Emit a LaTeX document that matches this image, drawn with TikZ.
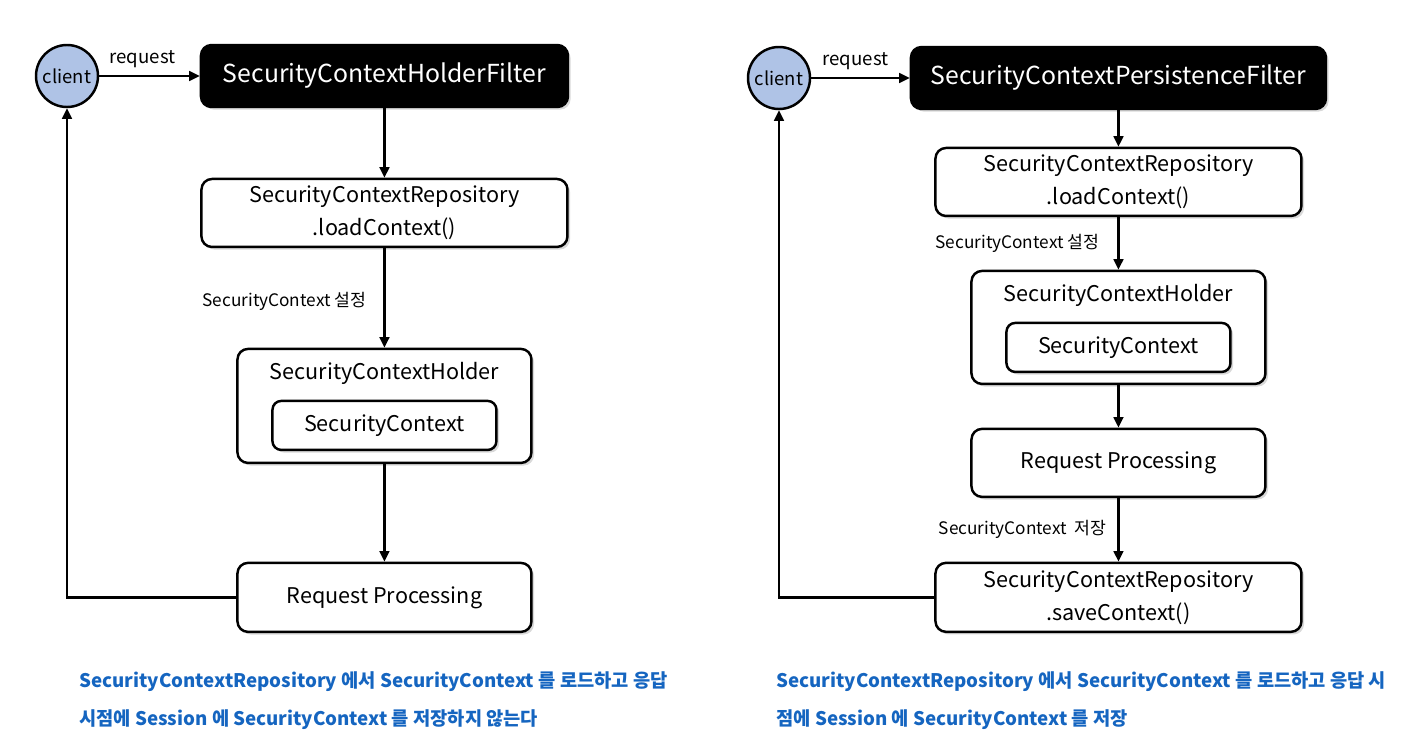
\documentclass[tikz,border=0pt]{standalone}
\usepackage{fontspec}
\setmainfont{Noto Sans CJK KR}
\usetikzlibrary{arrows.meta,positioning,shadows}
\definecolor{ClientBlue}{HTML}{AFC3E6}
\definecolor{NoteBlue}{HTML}{1565C0}
\begin{document}
\begin{tikzpicture}[
    boxtext/.style={align=center,inner sep=0pt,font=\fontsize{12.3}{18.8}\selectfont},
    flowbox/.style={
      boxtext,
      draw,
      line width=1.4pt,
      rounded corners=6pt,
      fill=white,
      drop shadow={opacity=0.3,shadow xshift=1.5pt,shadow yshift=-1.5pt}
    },
    widebox/.style={flowbox,minimum width=7.32cm,minimum height=1.36cm},
    narrowbox/.style={flowbox,minimum width=5.88cm,minimum height=1.38cm},
    holderbox/.style={flowbox,minimum width=5.88cm,minimum height=2.28cm},
    innerbox/.style={flowbox,minimum width=4.48cm,minimum height=0.98cm,rounded corners=5pt},
    filterbox/.style={
      draw,
      line width=1.4pt,
      rounded corners=6pt,
      fill=black,
      text=white,
      minimum height=1.24cm,
      drop shadow={opacity=0.3,shadow xshift=1.5pt,shadow yshift=-1.5pt},
      font=\fontsize{14.1}{16}\selectfont
    },
    clientnode/.style={
      circle,
      draw,
      line width=1.4pt,
      fill=ClientBlue,
      minimum size=1.24cm,
      inner sep=0pt,
      font=\fontsize{10.5}{12}\selectfont
    },
    flow/.style={line width=1.4pt,-{Triangle[length=6pt,width=5.5pt]}},
    steplabel/.style={inner sep=0pt,font=\fontsize{9.8}{11}\selectfont},
    requestlabel/.style={inner sep=0pt,font=\fontsize{10.6}{12}\selectfont},
    note/.style={text=NoteBlue,anchor=west,align=left,inner sep=0pt,
      font=\bfseries\fontsize{10.65}{21.5}\selectfont}
  ]
  \useasboundingbox (0,0) rectangle (28.32,-15.04);

  % left: SecurityContextHolderFilter
  \node[clientnode] (clientA) at (1.34,-1.52) {client};
  \node[filterbox,minimum width=7.34cm,right=2.01cm of clientA] (holderFilter) {SecurityContextHolderFilter};
  \node[widebox,below=1.39cm of holderFilter] (loadA) {SecurityContextRepository\\.loadContext()};
  \node[holderbox,below=1.99cm of loadA] (holderA) {};
  \node[boxtext] at ([yshift=-0.52cm]holderA.north) (holderTitleA) {SecurityContextHolder};
  \node[innerbox,below=1.04cm of holderA.north] (contextA) {SecurityContext};
  \node[narrowbox,below=1.95cm of holderA] (processA) {Request Processing};

  \draw[flow] (clientA) -- node[midway,above,xshift=-0.14cm,requestlabel,yshift=4pt] {request} (holderFilter);
  \draw[flow] (holderFilter) -- (loadA);
  \draw[flow] (loadA) -- node[midway,left=0.34cm,steplabel,yshift=-2pt] {SecurityContext 설정} (holderA);
  \draw[flow] (holderA) -- (processA);
  \draw[flow] (processA.west) -| (clientA.south);

  \node[note] (noteA) at (1.58,-14.02) {SecurityContextRepository 에서 SecurityContext 를 로드하고 응답\\시점에 Session 에 SecurityContext 를 저장하지 않는다};

  % right: SecurityContextPersistenceFilter
  \node[clientnode] (clientB) at (15.58,-1.56) {client};
  \node[filterbox,minimum width=8.3cm,right=1.97cm of clientB] (persistFilter) {SecurityContextPersistenceFilter};
  \node[widebox,below=0.73cm of persistFilter] (loadB) {SecurityContextRepository\\.loadContext()};
  \node[holderbox,minimum height=2.26cm,below=1.05cm of loadB] (holderB) {};
  \node[boxtext] at ([yshift=-0.52cm]holderB.north) (holderTitleB) {SecurityContextHolder};
  \node[innerbox,below=1.04cm of holderB.north] (contextB) {SecurityContext};
  \node[narrowbox,minimum height=1.36cm,below=0.85cm of holderB] (processB) {Request Processing};
  \node[widebox,minimum height=1.38cm,below=1.27cm of processB] (saveB) {SecurityContextRepository\\.saveContext()};

  \draw[flow] (clientB) -- node[midway,above,xshift=-0.1cm,requestlabel,yshift=4pt] {request} (persistFilter);
  \draw[flow] (persistFilter) -- (loadB);
  \draw[flow] (loadB) -- node[midway,left=0.36cm,steplabel] {SecurityContext 설정} (holderB);
  \draw[flow] (holderB) -- (processB);
  \draw[flow] (processB) -- node[midway,left=0.22cm,steplabel] {SecurityContext~ 저장} (saveB);
  \draw[flow] (saveB.west) -| (clientB.south);

  \node[note] (noteB) at (15.52,-14.02) {SecurityContextRepository 에서 SecurityContext 를 로드하고 응답 시\\점에 Session 에 SecurityContext 를 저장};
\end{tikzpicture}
\end{document}
